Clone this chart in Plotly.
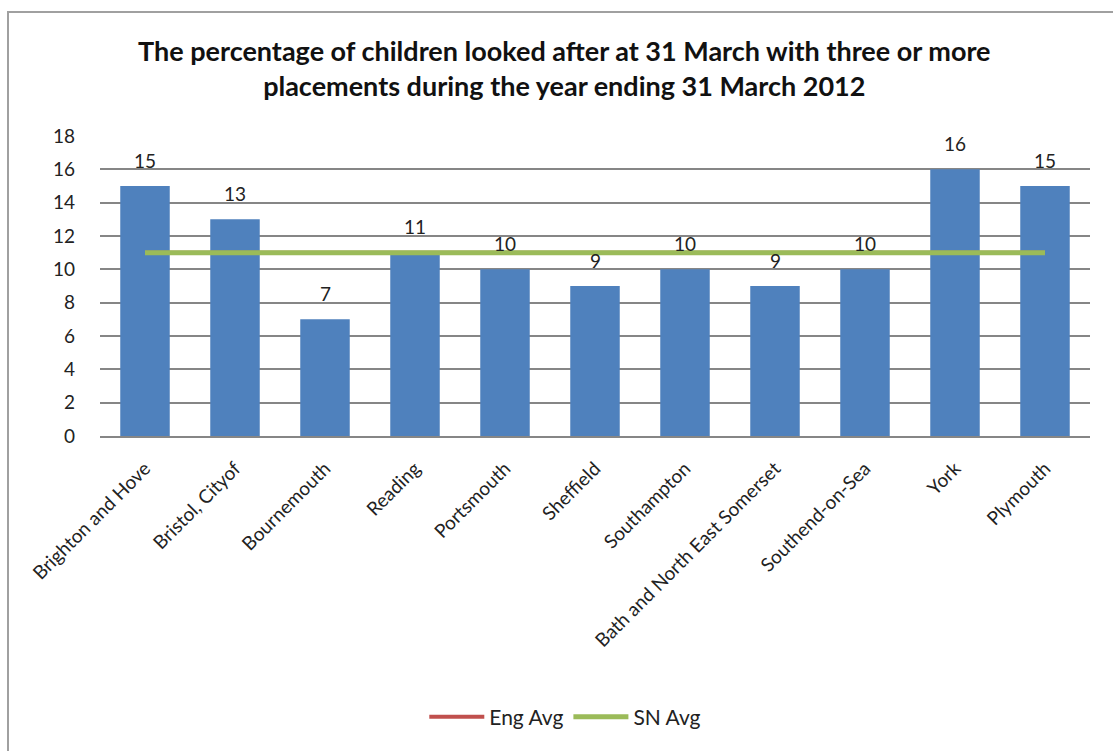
import plotly.graph_objects as go

categories = ["Brighton and Hove", "Bristol, Cityof", "Bournemouth", "Reading", "Portsmouth",
              "Sheffield", "Southampton", "Bath and North East Somerset", "Southend-on-Sea",
              "York", "Plymouth"]
values = [15, 13, 7, 11, 10, 9, 10, 9, 10, 16, 15]
eng_avg = [11, 11, 11, 11, 11, 11, 11, 11, 11, 11, 11]
sn_avg = [11, 11, 11, 11, 11, 11, 11, 11, 11, 11, 11]
title_text = ("The percentage of children looked after at 31 March with three or more<br>"
              "placements during the year ending 31 March 2012")

FONT = "Lato"

fig = go.Figure()
fig.add_trace(go.Bar(x=categories, y=values, marker_color="#4F81BD",
                     marker_line_width=0, showlegend=False))
fig.add_trace(go.Scatter(x=categories, y=eng_avg, mode="lines", name="Eng Avg",
                         line=dict(color="#C0504D", width=4)))
fig.add_trace(go.Scatter(x=categories, y=sn_avg, mode="lines", name="SN Avg",
                         line=dict(color="#9BBB59", width=5)))

for c, v in zip(categories, values):
    fig.add_annotation(x=c, y=v, text=str(v), showarrow=False, yshift=26,
                       font=dict(family=FONT, size=19, color="#222"))

fig.add_shape(type="rect", xref="paper", yref="paper",
              x0=(8 - 100) / 990, x1=(1140 - 100) / 990,
              y0=-(770 - 436) / 300, y1=1 + (136 - 12) / 300,
              line=dict(color="#a0a0a0", width=2), fillcolor="rgba(0,0,0,0)", layer="below")

fig.update_layout(
    width=1113, height=751,
    margin=dict(l=100, r=23, t=136, b=315),
    paper_bgcolor="white", plot_bgcolor="white",
    bargap=0.45,
    title=dict(text=title_text, x=0.507, xanchor="center", y=1 - 61 / 751, yanchor="middle",
               font=dict(family=FONT, size=27, color="#111", weight="bold")),
    font=dict(family=FONT, color="#222"),
    xaxis=dict(tickangle=-45, tickfont=dict(family=FONT, size=19, color="#222"),
               showline=True, linecolor="#868686", linewidth=2, ticks="",
               showgrid=False, ticklabelstandoff=12),
    yaxis=dict(range=[0, 18], dtick=2, showgrid=True, gridcolor="#868686", gridwidth=1.5,
               tickfont=dict(family=FONT, size=19, color="#222"), ticks="",
               ticklabelstandoff=24, zeroline=False, showline=False),
    legend=dict(orientation="h", x=0.47, xanchor="center", y=-(717 - 436) / 300,
                yanchor="middle", font=dict(family=FONT, size=21, color="#222"),
                traceorder="normal", itemwidth=55),
)

fig.write_html("out.html")
